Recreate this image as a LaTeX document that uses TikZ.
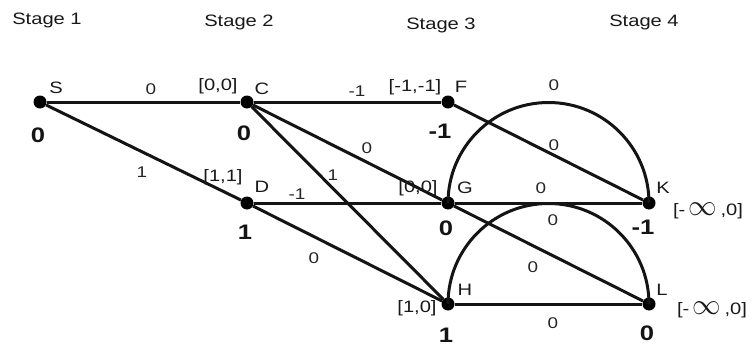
\documentclass[tikz,border=0pt]{standalone}
\usepackage{fontspec}
\setmainfont{Liberation Sans}
\newcommand{\T}[1]{\scalebox{1.22}[1]{#1}}
\newcommand{\infsym}{\scalebox{1.35}[1.7]{$\infty$}}
\begin{document}
\begin{tikzpicture}[x=1pt,y=-1pt,
  vtx/.style={circle,fill=black,inner sep=0pt,minimum size=13pt},
  edge/.style={line width=3pt,black!92},
  lab/.style={font=\fontsize{16.5}{18}\selectfont,inner sep=0pt,text=black!90},
  elab/.style={font=\fontsize{15.5}{17}\selectfont,inner sep=0pt,text=black!85},
  val/.style={font=\fontsize{21}{22}\selectfont\bfseries,inner sep=0pt,text=black!92}]
\useasboundingbox[fill=white] (0,0) rectangle (753,348);
% vertices
\node[vtx] (S) at (40,102) {};
\node[vtx] (C) at (247,102) {};
\node[vtx] (F) at (448,102) {};
\node[vtx] (D) at (247,203) {};
\node[vtx] (G) at (448,203) {};
\node[vtx] (K) at (649,203) {};
\node[vtx] (H) at (448,304) {};
\node[vtx] (L) at (649,304) {};
% edges
\draw[edge] (S) -- (C);
\draw[edge] (S) -- (D);
\draw[edge] (C) -- (F);
\draw[edge] (C) -- (G);
\draw[edge] (C) -- (H);
\draw[edge] (D) -- (G);
\draw[edge] (D) -- (H);
\draw[edge] (F) -- (K);
\draw[edge] (G) -- (K);
\draw[edge] (G) -- (L);
\draw[edge] (H) -- (L);
\draw[edge] (G.center) arc[start angle=180,end angle=360,radius=100.5];
\draw[edge] (H.center) arc[start angle=180,end angle=360,radius=100.5];
% stage titles
\node[lab] (t1) at (47,20) {\T{Stage 1}};
\node[lab] (t2) at (239,22) {\T{Stage 2}};
\node[lab] (t3) at (441,25) {\T{Stage 3}};
\node[lab] (t4) at (644,22) {\T{Stage 4}};
% vertex names
\node[lab] (nS) at (56,88) {\T{S}};
\node[lab] (nC) at (262,89) {\T{C}};
\node[lab] (nF) at (461,87) {\T{F}};
\node[lab] (nD) at (262,187) {\T{D}};
\node[lab] (nG) at (465,188) {\T{G}};
\node[lab] (nK) at (663,188) {\T{K}};
\node[lab] (nH) at (465,290) {\T{H}};
\node[lab] (nL) at (662,290) {\T{L}};
% intervals
\node[lab] (iC) at (218,86) {\T{[0,0]}};
\node[lab] (iF) at (415,87) {\T{[-1,-1]}};
\node[lab] (iD) at (223,177) {\T{[1,1]}};
\node[lab] (iG) at (418,188) {\T{[0,0]}};
\node[lab] (iH) at (417,308) {\T{[1,0]}};
\node[lab] (iK) at (708,211) {\T{[-\,\infsym\,,0]}};
\node[lab] (iL) at (712,310) {\T{[-\,\infsym\,,0]}};
% values
\node[val] (vS) at (38,135) {\T{0}};
\node[val] (vC) at (244,133) {\T{0}};
\node[val] (vF) at (440,131) {\T{-1}};
\node[val] (vD) at (245,232) {\T{1}};
\node[val] (vG) at (446,228) {\T{0}};
\node[val] (vK) at (643,227) {\T{-1}};
\node[val] (vH) at (446,335) {\T{1}};
\node[val] (vL) at (647,333) {\T{0}};
% edge weights
\node[elab] (wSC) at (151,89) {\T{0}};
\node[elab] (wSD) at (142,172) {\T{1}};
\node[elab] (wCF) at (357,91) {\T{-1}};
\node[elab] (wCG) at (367,148) {\T{0}};
\node[elab] (wCH) at (333,175) {\T{1}};
\node[elab] (wDG) at (297,194) {\T{-1}};
\node[elab] (wDH) at (314,258) {\T{0}};
\node[elab] (wGKa) at (554,85) {\T{0}};
\node[elab] (wFK) at (554,145) {\T{0}};
\node[elab] (wGK) at (541,188) {\T{0}};
\node[elab] (wHLa) at (553,220) {\T{0}};
\node[elab] (wGL) at (533,267) {\T{0}};
\node[elab] (wHL) at (553,323) {\T{0}};
\end{tikzpicture}
\end{document}
